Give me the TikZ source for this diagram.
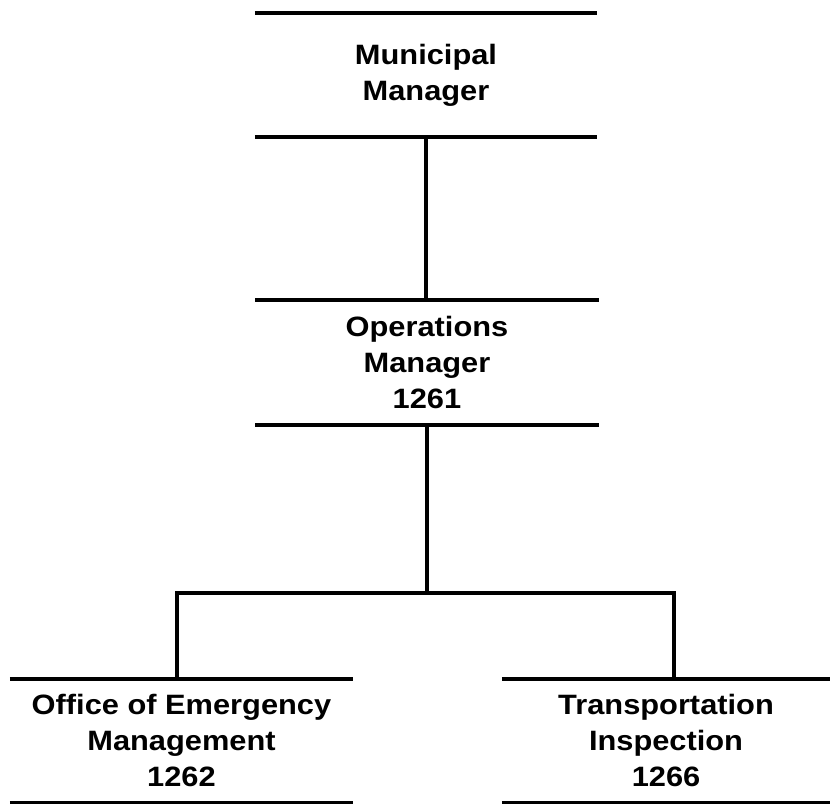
\documentclass[tikz,border=0pt]{standalone}
\usepackage{fontspec}
\setmainfont{Liberation Sans}[FakeStretch=1.1]
\tikzset{
    post/.style = {inner sep = 0pt, align = center, font = \bfseries\fontsize{28}{36}\selectfont},
    rule/.style = {line width = 4pt},
    thinrule/.style = {line width = 3pt}
}
\begin{document}
\begin{tikzpicture}[x = 1pt, y = 1pt]
        \useasboundingbox (0,0) rectangle (834,805);

        \node (mm) at (426, 730) [post, minimum width = 342pt, minimum height = 124pt] {Municipal\\Manager};
        \node (om) at (427, 442.5) [post, minimum width = 343pt, minimum height = 125pt] {Operations\\Manager\\1261};
        \node (oem) at (181.5, 64.5) [post, minimum width = 343pt, minimum height = 123pt] {Office of Emergency\\Management\\1262};
        \node (ti) at (666, 64.5) [post, minimum width = 328pt, minimum height = 123pt] {Transportation\\Inspection\\1266};

        \coordinate (lbranch) at (177, 212);
        \coordinate (rbranch) at (674, 212);

        \draw [rule] (mm.north west) -- (mm.north east);
        \draw [rule] (mm.south west) -- (mm.south east);
        \draw [rule] (om.north west) -- (om.north east);
        \draw [rule] (om.south west) -- (om.south east);
        \draw [rule] (oem.north west) -- (oem.north east);
        \draw [thinrule] (oem.south west) -- (oem.south east);
        \draw [rule] (ti.north west) -- (ti.north east);
        \draw [thinrule] (ti.south west) -- (ti.south east);

        \draw [rule] (mm.south) -- (mm.south |- om.north);
        \draw [rule] (om.south) -- (om.south |- lbranch);
        \draw [rule] (lbranch |- oem.north) -- (lbranch) -- (rbranch) -- (rbranch |- ti.north);
    \end{tikzpicture}
\end{document}
